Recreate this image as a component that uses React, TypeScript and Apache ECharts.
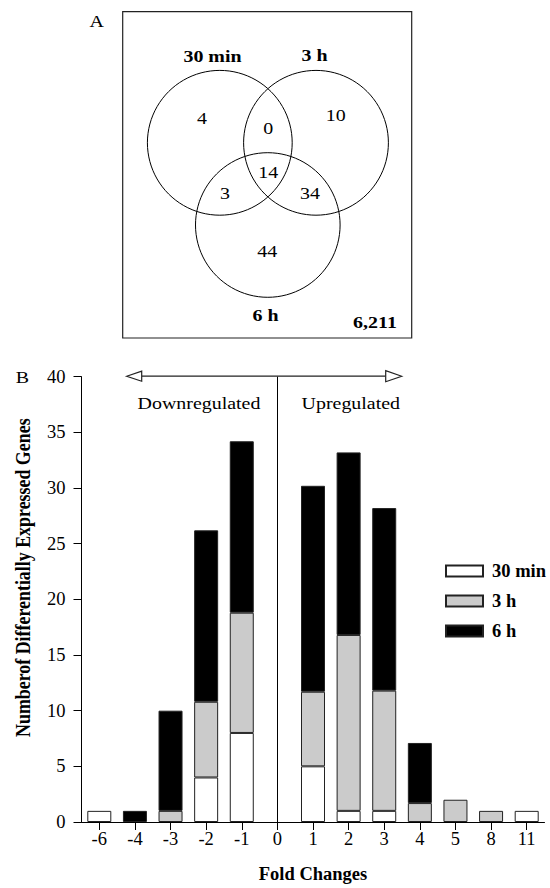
import React, { useEffect, useRef } from "react";
import * as echarts from "echarts";

// Panel B: stacked counts of differentially expressed genes per fold change
const foldChanges = ["-6", "-4", "-3", "-2", "-1", "0", "1", "2", "3", "4", "5", "8", "11"];
const timePoints = ["30 min", "3 h", "6 h"];
const genes30min = [1, 0, 0, 4, 8, 0, 5, 1, 1, 0, 0, 0, 1];
const genes3h = [0, 0, 1, 6.8, 10.8, 0, 6.7, 15.8, 10.8, 1.7, 2, 1, 0];
const genes6h = [0, 1, 9, 15.4, 15.4, 0, 18.5, 16.4, 16.4, 5.4, 0, 0, 0];
const yTicks = { min: 0, max: 40, step: 5 };

// Panel A: Venn region counts
// order: 30 min only, 3 h only, 6 h only, 30 min ∩ 3 h, 30 min ∩ 6 h, 3 h ∩ 6 h, all three
const vennRegionCounts = [4, 10, 44, 0, 3, 34, 14];
const vennUnchanged = 6211;

const SERIF = "Liberation Serif";
const SX = 1.14;
const FS = 17.5;

function label(
  text: string,
  x: number,
  y: number,
  bold = false,
  extra: Record<string, unknown> = {}
) {
  return {
    type: "text",
    x,
    y,
    scaleX: SX,
    silent: true,
    style: {
      text,
      fill: "#000",
      fontFamily: SERIF,
      fontSize: FS,
      fontWeight: bold ? "bold" : "normal",
      align: "center",
      verticalAlign: "middle",
      textAlign: "center",
      textVerticalAlign: "middle",
    },
    ...extra,
  };
}

export default function App() {
  const ref = useRef<HTMLDivElement>(null);

  useEffect(() => {
    if (!ref.current) return;
    const chart = echarts.init(ref.current, undefined, { renderer: "svg" });

    const fills = ["#ffffff", "#cbcbcb", "#000000"];
    const values = [genes30min, genes3h, genes6h];

    const series: any[] = timePoints.map((name, i) => ({
      name,
      type: "bar",
      stack: "genes",
      barWidth: 24,
      data: values[i].map((v) => (v === 0 ? "-" : v)),
      itemStyle: { color: fills[i], borderColor: "#222", borderWidth: 1 },
      emphasis: { disabled: true },
      silent: true,
    }));

    // divider between down- and up-regulated genes at fold change 0
    series[2].markLine = {
      silent: true,
      symbol: "none",
      label: { show: false },
      lineStyle: { color: "#000", width: 1, type: "solid" },
      data: [{ xAxis: foldChanges.indexOf("0") }],
    };

    const [c30, c3, c6, c30_3, c30_6, c3_6, cAll] = vennRegionCounts;
    const arrowY = 376.2;

    const graphic: any[] = [
      // Panel A
      label("A", 96.7, 20.7),
      {
        type: "rect",
        silent: true,
        shape: { x: 122.7, y: 11.7, width: 289, height: 326.3 },
        style: { fill: "none", stroke: "#222", lineWidth: 1.2 },
      },
      {
        type: "circle",
        silent: true,
        shape: { cx: 219.8, cy: 142.8, r: 72.4 },
        style: { fill: "none", stroke: "#000", lineWidth: 1 },
      },
      {
        type: "circle",
        silent: true,
        shape: { cx: 316, cy: 142.8, r: 72.4 },
        style: { fill: "none", stroke: "#000", lineWidth: 1 },
      },
      {
        type: "circle",
        silent: true,
        shape: { cx: 267.8, cy: 225, r: 72.3 },
        style: { fill: "none", stroke: "#000", lineWidth: 1 },
      },
      label(timePoints[0], 212.5, 56, true),
      label(timePoints[1], 314.5, 55, true),
      label(timePoints[2], 265.5, 315, true),
      label(vennUnchanged.toLocaleString("en-US"), 375, 321.7, true),
      label(String(c30), 202, 118.3),
      label(String(c3), 335.8, 115),
      label(String(c6), 267.3, 250.7),
      label(String(c30_3), 268.3, 128.3),
      label(String(c30_6), 225, 193.3),
      label(String(c3_6), 310, 192.7),
      label(String(cAll), 268.3, 171.7),

      // Panel B annotations
      label("B", 22.5, 376.7),
      {
        type: "line",
        silent: true,
        shape: { x1: 141.7, y1: arrowY, x2: 385.7, y2: arrowY },
        style: { stroke: "#222", lineWidth: 1.2 },
      },
      {
        type: "polygon",
        silent: true,
        shape: { points: [[126.7, arrowY], [141.7, arrowY - 5], [141.7, arrowY + 5]] },
        style: { fill: "#fff", stroke: "#222", lineWidth: 1.2 },
      },
      {
        type: "polygon",
        silent: true,
        shape: { points: [[401.7, arrowY], [385.7, arrowY - 5.5], [385.7, arrowY + 5.5]] },
        style: { fill: "#fff", stroke: "#222", lineWidth: 1.2 },
      },
      label("Downregulated", 199, 402.7),
      label("Upregulated", 350.8, 402.7),
      {
        type: "text",
        x: 23.5,
        y: 577.7,
        rotation: Math.PI / 2,
        scaleY: SX,
        silent: true,
        style: {
          text: "Numberof Differentially Expressed Genes",
          fill: "#000",
          fontFamily: SERIF,
          fontSize: 17.9,
          fontWeight: "bold",
          align: "center",
          verticalAlign: "middle",
          textAlign: "center",
          textVerticalAlign: "middle",
        },
      },
    ];

    chart.setOption({
      animation: false,
      backgroundColor: "#fff",
      textStyle: { fontFamily: SERIF },
      grid: { left: 81.5, right: 5.5, top: 376.7, bottom: 62.5, containLabel: false },
      legend: {
        orient: "vertical",
        left: 445,
        top: 561.5,
        padding: 0,
        icon: "rect",
        itemWidth: 37,
        itemHeight: 11,
        itemGap: 11,
        selectedMode: false,
        data: timePoints,
        textStyle: {
          fontFamily: SERIF,
          fontSize: 18.5,
          fontWeight: "bold",
          color: "#000",
          padding: [0, 0, 0, 4],
        },
      },
      xAxis: {
        type: "category",
        data: foldChanges,
        axisLine: { show: true, lineStyle: { color: "#000", width: 1 } },
        axisTick: { show: true, alignWithLabel: true, length: 8, lineStyle: { color: "#000" } },
        axisLabel: { color: "#000", fontFamily: SERIF, fontSize: 18.5, margin: 7, interval: 0 },
        name: "Fold Changes",
        nameLocation: "middle",
        nameGap: 42,
        nameTextStyle: { color: "#000", fontFamily: SERIF, fontSize: 18.5, fontWeight: "bold" },
        splitLine: { show: false },
      },
      yAxis: {
        type: "value",
        min: yTicks.min,
        max: yTicks.max,
        interval: yTicks.step,
        axisLine: { show: true, lineStyle: { color: "#000", width: 1 } },
        axisTick: { show: true, length: 8, lineStyle: { color: "#000" } },
        axisLabel: { color: "#000", fontFamily: SERIF, fontSize: 18.5, margin: 16 },
        splitLine: { show: false },
      },
      series,
      graphic,
    });

    return () => chart.dispose();
  }, []);

  return (
    <div
      ref={ref}
      style={{ position: "absolute", left: 0, top: 0, width: 550, height: 888, background: "#fff" }}
    />
  );
}
